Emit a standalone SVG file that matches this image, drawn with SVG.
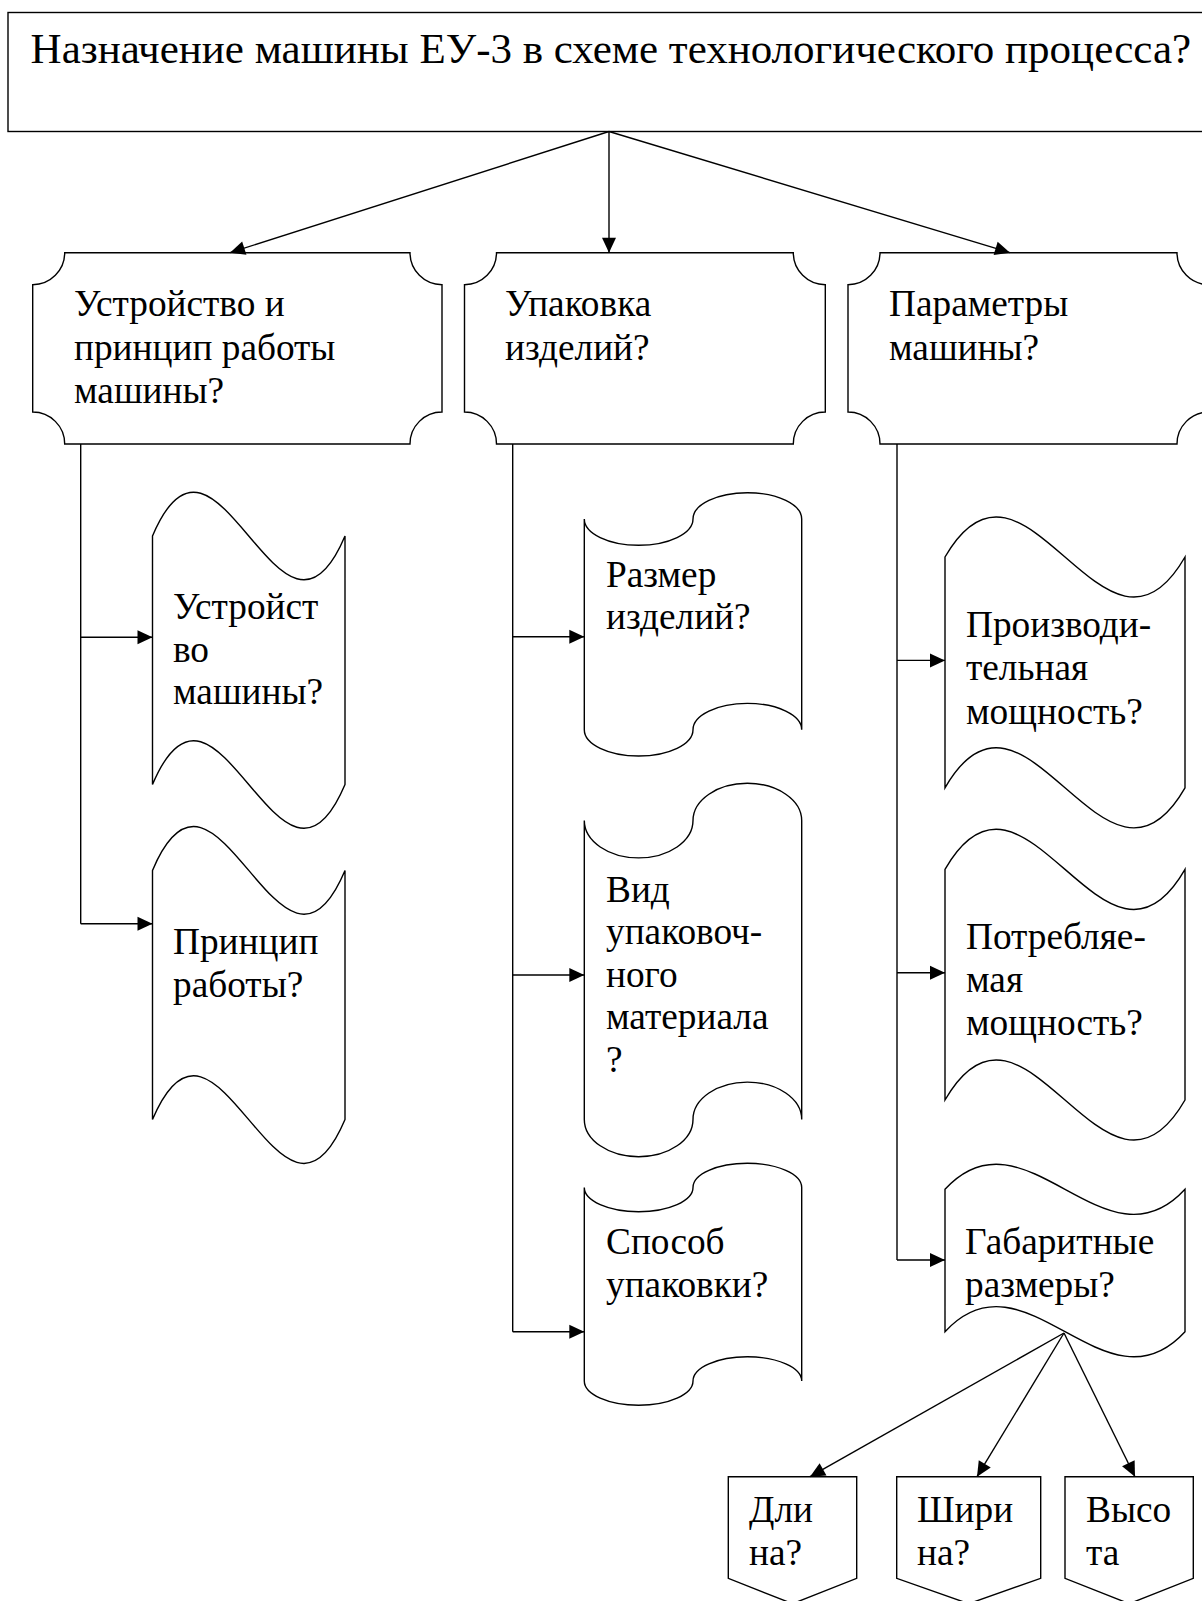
<svg xmlns="http://www.w3.org/2000/svg" width="1202" height="1601" viewBox="0 0 1202 1601">
<style>
.s{fill:#fff;stroke:#000;stroke-width:1.4;stroke-linejoin:miter}
.c{fill:none;stroke:#000;stroke-width:1.4}
.t{font-family:"Liberation Serif","Times New Roman",serif;font-size:37.3px;fill:#000}
.h{font-family:"Liberation Serif","Times New Roman",serif;font-size:43px;fill:#000}
</style>
<defs>
<marker id="ah" markerUnits="userSpaceOnUse" markerWidth="15" markerHeight="14" refX="15" refY="7" orient="auto" overflow="visible">
<path d="M0,0 L15,7 L0,14 Z" fill="#000"/>
</marker>
</defs>
<rect x="0" y="0" width="1202" height="1601" fill="#fff"/>

<g id="title">
<rect class="s" x="8" y="12.5" width="1210" height="119"/>
<text class="h" x="30.6" y="62.5">Назначение машины ЕУ-3 в схеме технологического процесса?</text>
</g>

<g id="n1">
<path class="s" d="M64.7,252.7 H410 A32,32 0 0 0 442,284.7 V412 A32,32 0 0 0 410,444 H64.7 A32,32 0 0 0 32.7,412 V284.7 A32,32 0 0 0 64.7,252.7 Z"/>
<text class="t" x="74" y="316">Устройство и</text>
<text class="t" x="74" y="359.5">принцип работы</text>
<text class="t" x="74" y="403">машины?</text>
</g>
<g id="n2">
<path class="s" d="M496.5,252.7 H793.3 A32,32 0 0 0 825.3,284.7 V412 A32,32 0 0 0 793.3,444 H496.5 A32,32 0 0 0 464.5,412 V284.7 A32,32 0 0 0 496.5,252.7 Z"/>
<text class="t" x="505" y="316">Упаковка</text>
<text class="t" x="505" y="359.5">изделий?</text>
</g>
<g id="n3">
<path class="s" d="M880,252.7 H1177 A32,32 0 0 0 1209,284.7 V412 A32,32 0 0 0 1177,444 H880 A32,32 0 0 0 848,412 V284.7 A32,32 0 0 0 880,252.7 Z"/>
<text class="t" x="889" y="316">Параметры</text>
<text class="t" x="889" y="359.5">машины?</text>
</g>

<g id="l1">
<path class="s" d="M152.5,536 C216.7,384 280.8,688 345,536 V784.5 C280.8,936.5 216.7,632.5 152.5,784.5 Z"/>
<text class="t" x="173" y="619.3">Устройст</text>
<text class="t" x="173" y="661.8">во</text>
<text class="t" x="173" y="704.3">машины?</text>
</g>
<g id="l2">
<path class="s" d="M152.5,870.4 C216.7,718.4 280.8,1022.4 345,870.4 V1119.6 C280.8,1271.6 216.7,967.6 152.5,1119.6 Z"/>
<text class="t" x="173" y="954.4">Принцип</text>
<text class="t" x="173" y="996.9">работы?</text>
</g>

<g id="m1">
<path class="s" d="M584.3,519 A54.35,26.3 0 0 0 693,519 A54.35,26.3 0 0 1 801.7,519 V729.7 A54.35,26.3 0 0 0 693,729.7 A54.35,26.3 0 0 1 584.3,729.7 Z"/>
<text class="t" x="606" y="586.7">Размер</text>
<text class="t" x="606" y="629.3">изделий?</text>
</g>
<g id="m2">
<path class="s" d="M584.3,820.6 A54.35,37.3 0 0 0 693,820.6 A54.35,37.3 0 0 1 801.7,820.6 V1119.4 A54.35,37.3 0 0 0 693,1119.4 A54.35,37.3 0 0 1 584.3,1119.4 Z"/>
<text class="t" x="606" y="901.7">Вид</text>
<text class="t" x="606" y="944.2">упаковоч-</text>
<text class="t" x="606" y="986.7">ного</text>
<text class="t" x="606" y="1029.2">материала</text>
<text class="t" x="606" y="1071.7">?</text>
</g>
<g id="m3">
<path class="s" d="M584.3,1187.5 A54.35,24.2 0 0 0 693,1187.5 A54.35,24.2 0 0 1 801.7,1187.5 V1381 A54.35,24.2 0 0 0 693,1381 A54.35,24.2 0 0 1 584.3,1381 Z"/>
<text class="t" x="606" y="1254">Способ</text>
<text class="t" x="606" y="1296.7">упаковки?</text>
</g>

<g id="r1">
<path class="s" d="M945,557 C1025,418 1105,696 1185,557 V787.8 C1105,926.8 1025,648.8 945,787.8 Z"/>
<text class="t" x="966" y="637">Производи-</text>
<text class="t" x="966" y="680">тельная</text>
<text class="t" x="966" y="723.5">мощность?</text>
</g>
<g id="r2">
<path class="s" d="M945,869.4 C1025,730.4 1105,1008.4 1185,869.4 V1100 C1105,1239 1025,961 945,1100 Z"/>
<text class="t" x="966" y="949">Потребляе-</text>
<text class="t" x="966" y="991.8">мая</text>
<text class="t" x="966" y="1034.7">мощность?</text>
</g>
<g id="r3">
<path class="s" d="M945,1189.3 C1025,1102.3 1105,1276.3 1185,1189.3 V1331.7 C1105,1418.7 1025,1244.7 945,1331.7 Z"/>
<text class="t" x="965" y="1254">Габаритные</text>
<text class="t" x="965" y="1296.7">размеры?</text>
</g>

<g id="p1">
<path class="s" d="M728.3,1476.7 H856.7 V1578.3 L792.5,1603.7 L728.3,1578.3 Z"/>
<text class="t" x="749" y="1521.7">Дли</text>
<text class="t" x="749" y="1565">на?</text>
</g>
<g id="p2">
<path class="s" d="M896.7,1476.7 H1040.7 V1578.3 L968.7,1603.7 L896.7,1578.3 Z"/>
<text class="t" x="917" y="1521.7">Шири</text>
<text class="t" x="917" y="1565">на?</text>
</g>
<g id="p3">
<path class="s" d="M1065,1476.7 H1193.3 V1578.3 L1129.2,1603.7 L1065,1578.3 Z"/>
<text class="t" x="1086" y="1521.7">Высо</text>
<text class="t" x="1086" y="1565">та</text>
</g>

<g id="connectors">
<path class="c" d="M609,131.5 L230,252.7" marker-end="url(#ah)"/>
<path class="c" d="M609,131.5 L609,252.7" marker-end="url(#ah)"/>
<path class="c" d="M609,131.5 L1010,252.7" marker-end="url(#ah)"/>
<path class="c" d="M80.7,444 V923.7"/>
<path class="c" d="M80.7,637.3 H152.5" marker-end="url(#ah)"/>
<path class="c" d="M80.7,923.7 H152.5" marker-end="url(#ah)"/>
<path class="c" d="M512.7,444 V1331.7"/>
<path class="c" d="M512.7,636.7 H584.3" marker-end="url(#ah)"/>
<path class="c" d="M512.7,975 H584.3" marker-end="url(#ah)"/>
<path class="c" d="M512.7,1331.7 H584.3" marker-end="url(#ah)"/>
<path class="c" d="M897,444 V1260"/>
<path class="c" d="M897,660.4 H945" marker-end="url(#ah)"/>
<path class="c" d="M897,972.7 H945" marker-end="url(#ah)"/>
<path class="c" d="M897,1260 H945" marker-end="url(#ah)"/>
<path class="c" d="M1064,1333 L810,1476.7" marker-end="url(#ah)"/>
<path class="c" d="M1064,1333 L977,1476.7" marker-end="url(#ah)"/>
<path class="c" d="M1064,1333 L1135,1476.7" marker-end="url(#ah)"/>
</g>
</svg>
